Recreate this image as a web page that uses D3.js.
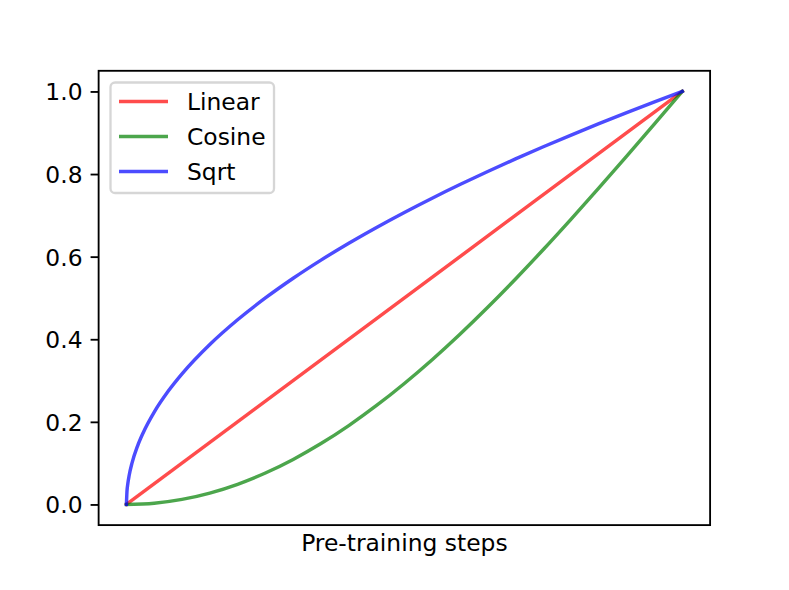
<!DOCTYPE html>
<html>
<head>
<meta charset="utf-8">
<script src="https://cdn.jsdelivr.net/npm/d3@7"></script>
<style>
  html, body { margin: 0; padding: 0; background: #fff; }
  svg { display: block; }
  text { font-family: "DejaVu Sans", sans-serif; }
</style>
</head>
<body>
<svg id="chart" width="789" height="590"></svg>
<script>
// ---- data ----
const seriesNames = ["Linear", "Cosine", "Sqrt"];
const seriesColors = ["#ff0000", "#008000", "#0000ff"];

const linearX = [0, 1];
const linearY = [0, 1];

const cosineX = [0, 0.05, 0.1, 0.15, 0.2, 0.25, 0.3, 0.35, 0.4, 0.45, 0.5, 0.55, 0.6, 0.65, 0.7, 0.75, 0.8, 0.85, 0.9, 0.95, 1.0];
const cosineY = [0, 0.0031, 0.0123, 0.0276, 0.0489, 0.0761, 0.1090, 0.1474, 0.1910, 0.2396, 0.2929, 0.3505, 0.4122, 0.4775, 0.5460, 0.6173, 0.6910, 0.7666, 0.8436, 0.9215, 1.0];

const sqrtX = [0, 0.001, 0.0025, 0.005, 0.01, 0.02, 0.03, 0.05, 0.075, 0.1, 0.15, 0.2, 0.25, 0.3, 0.35, 0.4, 0.45, 0.5, 0.55, 0.6, 0.65, 0.7, 0.75, 0.8, 0.85, 0.9, 0.95, 1.0];
const sqrtY = [0, 0.0316, 0.05, 0.0707, 0.1, 0.1414, 0.1732, 0.2236, 0.2739, 0.3162, 0.3873, 0.4472, 0.5, 0.5477, 0.5916, 0.6325, 0.6708, 0.7071, 0.7416, 0.7746, 0.8062, 0.8367, 0.8660, 0.8944, 0.9220, 0.9487, 0.9747, 1.0];

const yTicks = [0.0, 0.2, 0.4, 0.6, 0.8, 1.0];
const xLabel = "Pre-training steps";

// ---- layout ----
const W = 789, H = 590;
const PT = 2.3;               // px per point
const FS = 23.4;              // font size
const mLeft = W * 0.125, mRight = W * 0.9, mTop = H * 0.12, mBottom = H * 0.89;

const svg = d3.select("#chart");
svg.append("rect").attr("width", W).attr("height", H).attr("fill", "#fff");

const x = d3.scaleLinear().domain([-0.05, 1.05]).range([mLeft, mRight]);
const y = d3.scaleLinear().domain([-0.05, 1.05]).range([mBottom, mTop]);

const series = [
  { name: seriesNames[0], color: seriesColors[0], xs: linearX, ys: linearY },
  { name: seriesNames[1], color: seriesColors[1], xs: cosineX, ys: cosineY },
  { name: seriesNames[2], color: seriesColors[2], xs: sqrtX, ys: sqrtY }
];

const line = d3.line()
  .x(d => x(d[0]))
  .y(d => y(d[1]))
  .curve(d3.curveMonotoneX);

const plot = svg.append("g");
plot.append("clipPath").attr("id", "clip")
  .append("rect").attr("x", mLeft).attr("y", mTop).attr("width", mRight - mLeft).attr("height", mBottom - mTop);

series.forEach(s => {
  const pts = s.xs.map((v, i) => [v, s.ys[i]]);
  plot.append("path")
    .attr("d", line(pts))
    .attr("fill", "none")
    .attr("stroke", s.color)
    .attr("stroke-opacity", 0.7)
    .attr("stroke-width", 1.5 * PT)
    .attr("stroke-linecap", "square")
    .attr("stroke-linejoin", "round")
    .attr("clip-path", "url(#clip)");
});

// y axis
const yAxis = d3.axisLeft(y)
  .tickValues(yTicks)
  .tickFormat(d3.format(".1f"))
  .tickSize(3.5 * PT)
  .tickPadding(3.5 * PT);
const gy = svg.append("g").attr("transform", `translate(${mLeft},0)`).call(yAxis);
gy.select(".domain").remove();
gy.selectAll(".tick line").attr("stroke", "#000").attr("stroke-width", 0.8 * PT);
gy.selectAll(".tick text")
  .attr("fill", "#000")
  .attr("dy", "0.36em")
  .style("font-family", "'DejaVu Sans', sans-serif")
  .style("font-size", FS + "px");

// frame
svg.append("rect")
  .attr("x", mLeft).attr("y", mTop)
  .attr("width", mRight - mLeft).attr("height", mBottom - mTop)
  .attr("fill", "none").attr("stroke", "#000").attr("stroke-width", 0.8 * PT)
  .attr("stroke-linejoin", "miter");

// x label
svg.append("text")
  .attr("x", (mLeft + mRight) / 2)
  .attr("y", 551)
  .attr("text-anchor", "middle")
  .attr("fill", "#000")
  .style("font-size", FS + "px")
  .text(xLabel);

// legend
const lg = svg.append("g");
lg.append("rect")
  .attr("x", 110.5).attr("y", 82.5)
  .attr("width", 163.5).attr("height", 110.5)
  .attr("rx", 4.6).attr("ry", 4.6)
  .attr("fill", "#fff").attr("fill-opacity", 0.8)
  .attr("stroke", "#cccccc").attr("stroke-opacity", 0.8)
  .attr("stroke-width", 1.0 * PT);

series.forEach((s, i) => {
  const cy = 101.5 + i * 35;
  lg.append("line")
    .attr("x1", 119).attr("x2", 168)
    .attr("y1", cy).attr("y2", cy)
    .attr("stroke", s.color).attr("stroke-opacity", 0.7)
    .attr("stroke-width", 1.5 * PT)
    .attr("stroke-linecap", "butt");
  lg.append("text")
    .attr("x", 187).attr("y", cy)
    .attr("dy", "0.36em")
    .attr("fill", "#000")
    .style("font-size", FS + "px")
    .text(s.name);
});
</script>
</body>
</html>
